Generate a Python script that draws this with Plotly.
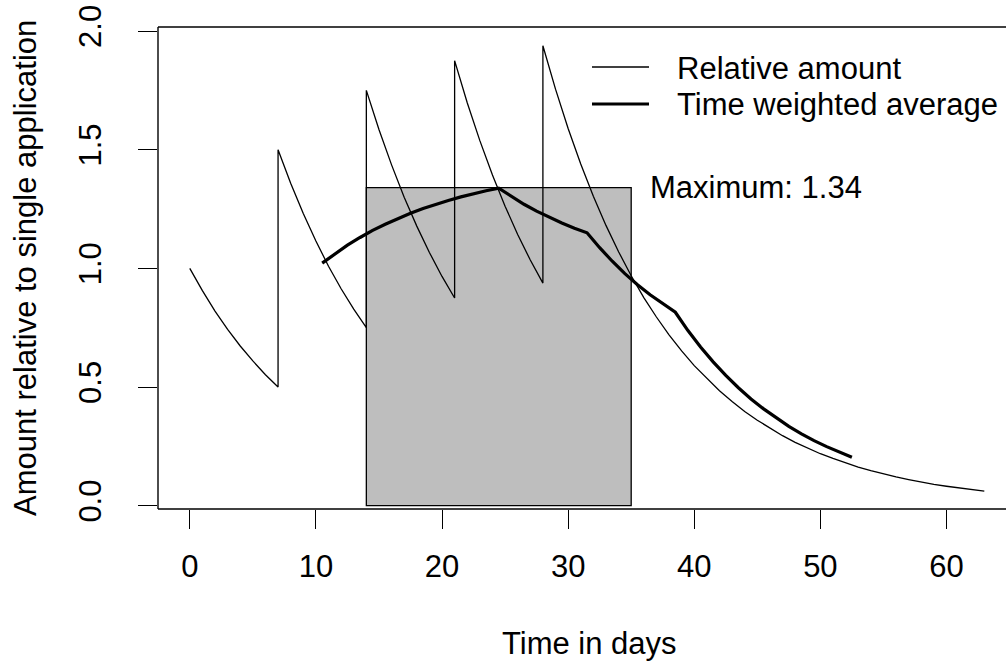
import plotly.graph_objects as go

# ---- data ----
# Relative amount after repeated applications (days 0, 7, 14, 21, 28)
seg1_days = list(range(0, 8))
seg1_vals = [1.000, 0.906, 0.820, 0.743, 0.673, 0.610, 0.552, 0.500]
seg2_days = list(range(7, 15))
seg2_vals = [1.500, 1.359, 1.231, 1.115, 1.009, 0.914, 0.828, 0.750]
seg3_days = list(range(14, 22))
seg3_vals = [1.750, 1.585, 1.436, 1.300, 1.178, 1.067, 0.966, 0.875]
seg4_days = list(range(21, 29))
seg4_vals = [1.875, 1.698, 1.538, 1.393, 1.262, 1.143, 1.035, 0.938]
seg5_days = list(range(28, 64))
seg5_vals = [1.938, 1.755, 1.589, 1.440, 1.304, 1.181, 1.070, 0.969, 0.877, 0.795,
             0.720, 0.652, 0.590, 0.535, 0.484, 0.439, 0.397, 0.360, 0.326, 0.295,
             0.267, 0.242, 0.219, 0.199, 0.180, 0.163, 0.148, 0.134, 0.121, 0.110,
             0.099, 0.090, 0.082, 0.074, 0.067, 0.061]

# Time weighted average (21 day window), plotted at window midpoints
twa_days = [10.5 + i for i in range(43)]
twa_vals = [1.022, 1.062, 1.098, 1.130, 1.160, 1.186, 1.210, 1.232, 1.252, 1.270,
            1.286, 1.301, 1.315, 1.327, 1.338, 1.302, 1.270, 1.241, 1.215, 1.191,
            1.169, 1.150, 1.087, 1.030, 0.978, 0.931, 0.889, 0.850, 0.815, 0.738,
            0.669, 0.606, 0.549, 0.497, 0.450, 0.408, 0.369, 0.334, 0.303, 0.274,
            0.249, 0.225, 0.204]

window_start = 14
window_end = 35
max_twa = 1.34

x_ticks = [0, 10, 20, 30, 40, 50, 60]
y_ticks = [0, 0.5, 1.0, 1.5, 2.0]
y_tick_text = ["0.0", "0.5", "1.0", "1.5", "2.0"]

rel_days = seg1_days + seg2_days + seg3_days + seg4_days + seg5_days
rel_vals = seg1_vals + seg2_vals + seg3_vals + seg4_vals + seg5_vals

FONT = "Liberation Sans, Arial, sans-serif"
FS = 31

fig = go.Figure()
fig.add_trace(go.Scatter(x=rel_days, y=rel_vals, mode="lines",
                         line=dict(color="black", width=1.3), showlegend=False,
                         name="Relative amount"))
fig.add_trace(go.Scatter(x=twa_days, y=twa_vals, mode="lines",
                         line=dict(color="black", width=3.2), showlegend=False,
                         name="Time weighted average"))

shapes = []
# max TWA window rectangle
shapes.append(dict(type="rect", xref="x", yref="y", x0=window_start, x1=window_end,
                   y0=0, y1=max_twa, fillcolor="#BEBEBE",
                   line=dict(color="black", width=1.3), layer="below"))
# plot box (right edge lies outside the image)
for (x0, y0, x1, y1) in [(0, 0, 0, 1), (0, 0, 1, 0), (0, 1, 1, 1)]:
    shapes.append(dict(type="line", xref="paper", yref="paper", x0=x0, y0=y0,
                       x1=x1, y1=y1, line=dict(color="black", width=1.4)))

# legend (manual)
L, W, T, H = 158, 848, 27, 482
def px(xp):
    return (xp - L) / W
def py(yp):
    return (T + H - yp) / H

leg_items = [("Relative amount", 1.3, 67), ("Time weighted average", 3.2, 104)]
annotations = []
for label, lw, yy in leg_items:
    shapes.append(dict(type="line", xref="paper", yref="paper", x0=px(592), x1=px(649),
                       y0=py(yy), y1=py(yy), line=dict(color="black", width=lw)))
    annotations.append(dict(text=label, xref="paper", yref="paper", x=px(675), y=py(yy + 1),
                            xanchor="left", yanchor="middle", showarrow=False,
                            font=dict(family=FONT, size=FS, color="black")))

annotations.append(dict(text="Maximum: %.2f" % max_twa, xref="x", yref="y",
                        x=window_end, y=max_twa, xshift=17, xanchor="left",
                        yanchor="middle", showarrow=False,
                        font=dict(family=FONT, size=FS, color="black")))
# axis titles
annotations.append(dict(text="Time in days", xref="paper", yref="paper",
                        x=px(589), y=0, yshift=-134, xanchor="center", yanchor="middle",
                        showarrow=False, font=dict(family=FONT, size=FS, color="black")))
annotations.append(dict(text="Amount relative to single application", xref="paper",
                        yref="paper", x=0, xshift=-133, y=0.5, xanchor="center",
                        yanchor="middle", textangle=-90, showarrow=False,
                        font=dict(family=FONT, size=FS, color="black")))

fig.update_layout(
    width=1006, height=662,
    margin=dict(l=L, r=0, t=T, b=662 - T - H, pad=0),
    paper_bgcolor="white", plot_bgcolor="white",
    shapes=shapes, annotations=annotations,
    xaxis=dict(range=[-2.52, 64.72], tickvals=x_ticks, ticks="outside", ticklen=19,
               tickwidth=1.3, tickcolor="black", showline=False, showgrid=False,
               zeroline=False, ticklabelstandoff=11,
               tickfont=dict(family=FONT, size=FS, color="black")),
    yaxis=dict(range=[-0.0139, 2.0169], tickvals=y_ticks, ticktext=y_tick_text,
               tickangle=-90, ticks="outside", ticklen=19, tickwidth=1.3,
               tickcolor="black", showline=False, showgrid=False, zeroline=False,
               ticklabelstandoff=25,
               tickfont=dict(family=FONT, size=FS, color="black")),
)

fig.write_html("out.html")
